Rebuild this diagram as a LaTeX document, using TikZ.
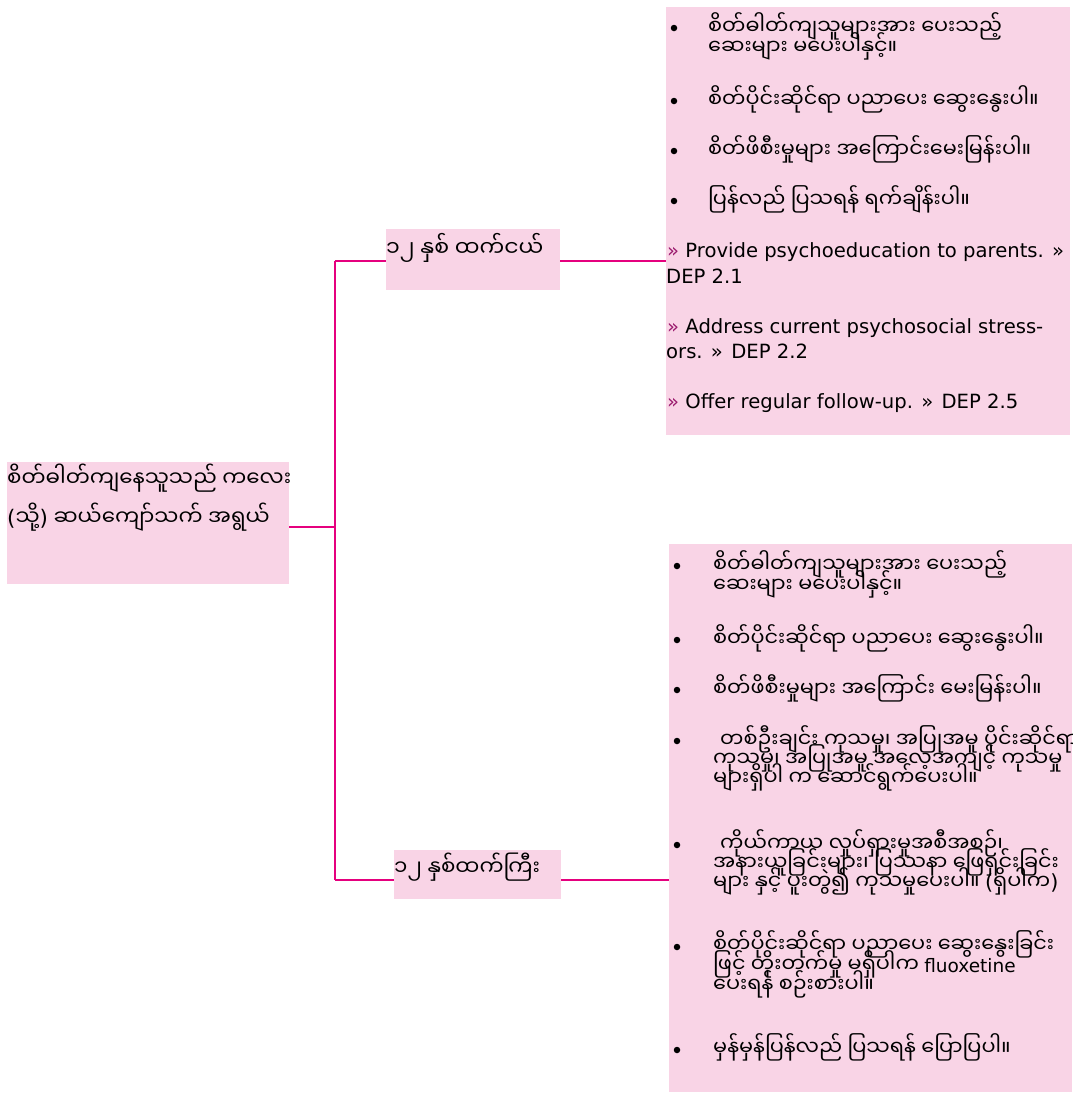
\documentclass[tikz,border=0pt]{standalone}
\usepackage{fontspec}
\newfontfamily\mm[Script=Myanmar]{Noto Sans Myanmar UI}
\newfontfamily\lat{DejaVu Sans}
\definecolor{boxpink}{HTML}{F9D4E6}
\definecolor{lnmag}{HTML}{E5007E}
\definecolor{guil}{HTML}{9B1B6E}
\tikzset{
  pinkbox/.style={fill=boxpink, draw=none, anchor=north west, inner sep=0pt, outer sep=0pt},
  conn/.style={draw=lnmag, line width=2pt},
  mmtxt/.style={anchor=base west, inner sep=0pt, font=\mm\fontsize{20.8}{20}\selectfont},
  bigmm/.style={anchor=base west, inner sep=0pt, font=\mm\fontsize{21.4}{39}\selectfont},
  entxt/.style={anchor=base west, inner sep=0pt, font=\lat\fontsize{19.6}{25}\selectfont},
  bul/.style={circle, fill=black, inner sep=0pt, minimum size=6.5pt},
}
\newcommand\gq{{\color{guil}»}}
\newcommand\lp{{\lat(}}
\newcommand\rp{{\lat)}}
\begin{document}
\begin{tikzpicture}[x=1pt,y=-1pt]
\useasboundingbox (0,0) rectangle (1072,1093);
% boxes
\node[pinkbox, minimum width=282pt, minimum height=122pt] (root) at (7,462) {};
\node[pinkbox, minimum width=174pt, minimum height=61pt] (mid1) at (386,229) {};
\node[pinkbox, minimum width=167pt, minimum height=49pt] (mid2) at (394,850) {};
\node[pinkbox, minimum width=404pt, minimum height=428pt] (r1) at (666,7) {};
\node[pinkbox, minimum width=403pt, minimum height=548pt] (r2) at (669,544) {};
% connectors
\coordinate (tT) at (335,261);
\coordinate (tB) at (335,880);
\coordinate (tR) at (335,527);
\draw[conn] (root.east |- tR) -- (tR);
\draw[conn] (tT) -- (tB);
\draw[conn] (tT) -- (mid1.west |- tT);
\draw[conn] (mid1.east |- tT) -- (r1.west |- tT);
\draw[conn] (tB) -- (mid2.west |- tB);
\draw[conn] (mid2.east |- tB) -- (r2.west |- tB);
% left text
\node[bigmm] (rootA) at (7,486) {စိတ်ဓါတ်ကျနေသူသည် ကလေး};
\node[bigmm] (rootB) at (7,525) {\lp{}သို့\rp{} ဆယ်ကျော်သက် အရွယ်};
% middle text
\node[bigmm, font=\mm\fontsize{22}{30}\selectfont] (midA) at (386,256) {၁၂ နှစ် ထက်ငယ်};
\node[bigmm] (midB) at (394,875) {၁၂ နှစ်ထက်ကြီး};
% top right box
\node[bul] (ba1) at (674,28) {};
\node[mmtxt] (ta1) at (708,34) {စိတ်ဓါတ်ကျသူများအား ပေးသည့်};
\node[mmtxt] (ta2) at (708,54) {ဆေးများ မပေးပါနှင့်။};
\node[bul] (ba2) at (674,101) {};
\node[mmtxt] (ta3) at (708,107) {စိတ်ပိုင်းဆိုင်ရာ ပညာပေး ဆွေးနွေးပါ။};
\node[bul] (ba3) at (674,151) {};
\node[mmtxt] (ta4) at (708,157) {စိတ်ဖိစီးမှုများ အကြောင်းမေးမြန်းပါ။};
\node[bul] (ba4) at (674,201) {};
\node[mmtxt] (ta5) at (708,207) {ပြန်လည် ပြသရန် ရက်ချိန်းပါ။};
\node[entxt] (ea1) at (667,257) {\gq{} Provide psychoeducation to parents. »};
\node[entxt] (ea2) at (666,283) {DEP 2.1};
\node[entxt] (ea3) at (667,333) {\gq{} Address current psychosocial stress-};
\node[entxt] (ea4) at (666,358) {ors. » DEP 2.2};
\node[entxt] (ea5) at (667,408) {\gq{} Offer regular follow-up. » DEP 2.5};
% bottom right box
\node[bul] (bb1) at (677,566) {};
\node[mmtxt] (tb1) at (713,572) {စိတ်ဓါတ်ကျသူများအား ပေးသည့်};
\node[mmtxt] (tb2) at (713,592) {ဆေးများ မပေးပါနှင့်။};
\node[bul] (bb2) at (677,640) {};
\node[mmtxt] (tb3) at (713,646) {စိတ်ပိုင်းဆိုင်ရာ ပညာပေး ဆွေးနွေးပါ။};
\node[bul] (bb3) at (677,690) {};
\node[mmtxt] (tb4) at (713,696) {စိတ်ဖိစီးမှုများ အကြောင်း မေးမြန်းပါ။};
\node[bul] (bb4) at (677,741) {};
\node[mmtxt] (tb5) at (720,747) {တစ်ဦးချင်း ကုသမှု၊ အပြုအမူ ပိုင်းဆိုင်ရာ};
\node[mmtxt] (tb6) at (713,766) {ကုသမှု၊ အပြုအမူ အလေ့အကျင့် ကုသမှု};
\node[mmtxt] (tb7) at (713,785) {များရှိပါ က ဆောင်ရွက်ပေးပါ။};
\node[bul] (bb5) at (677,845) {};
\node[mmtxt] (tb8) at (720,851) {ကိုယ်ကာယ လှုပ်ရှားမှုအစီအစဉ်၊};
\node[mmtxt] (tb9) at (713,870) {အနားယူခြင်းများ၊ ပြဿနာ ဖြေရှင်းခြင်း};
\node[mmtxt] (tb10) at (713,889) {များ နှင့် ပူးတွဲ၍ ကုသမှုပေးပါ။ \lp{}ရှိပါက\rp};
\node[bul] (bb6) at (677,947) {};
\node[mmtxt] (tb11) at (713,952) {စိတ်ပိုင်းဆိုင်ရာ ပညာပေး ဆွေးနွေးခြင်း};
\node[mmtxt] (tb12) at (713,972) {ဖြင့် တိုးတက်မှု မရှိပါက {\lat\fontsize{18.5}{20}\selectfont fluoxetine}};
\node[mmtxt] (tb13) at (713,992) {ပေးရန် စဉ်းစားပါ။};
\node[bul] (bb7) at (677,1050) {};
\node[mmtxt] (tb14) at (713,1055) {မှန်မှန်ပြန်လည် ပြသရန် ပြောပြပါ။};
\end{tikzpicture}
\end{document}
